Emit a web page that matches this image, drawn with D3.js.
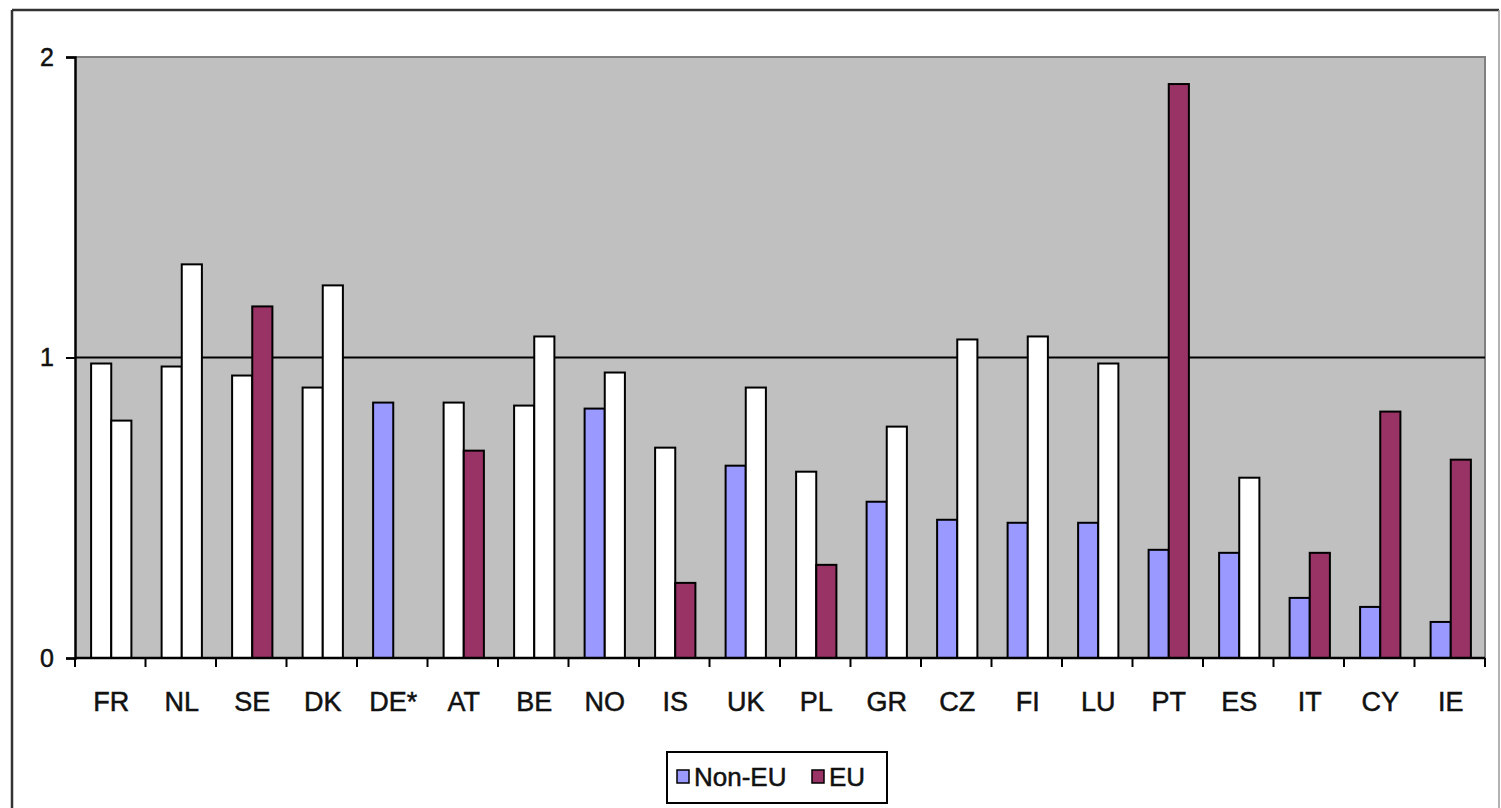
<!DOCTYPE html>
<html>
<head>
<meta charset="utf-8">
<script src="https://cdn.jsdelivr.net/npm/d3@7"></script>
<style>
  body { margin: 0; background: #fff; }
  text { font-family: "Liberation Sans", Arial, sans-serif; fill: #111; stroke: #111; stroke-width: 0.5px; }
</style>
</head>
<body>
<div id="chart"></div>
<script>
// Country codes along the x axis
var countries = ["FR", "NL", "SE", "DK", "DE*", "AT", "BE", "NO", "IS", "UK",
                 "PL", "GR", "CZ", "FI", "LU", "PT", "ES", "IT", "CY", "IE"];

// Values (DE* has no EU bar)
var nonEU = [0.98, 0.97, 0.94, 0.90, 0.85, 0.85, 0.84, 0.83, 0.70, 0.64,
             0.62, 0.52, 0.46, 0.45, 0.45, 0.36, 0.35, 0.20, 0.17, 0.12];
var eu    = [0.79, 1.31, 1.17, 1.24, null, 0.69, 1.07, 0.95, 0.25, 0.90,
             0.31, 0.77, 1.06, 1.07, 0.98, 1.91, 0.60, 0.35, 0.82, 0.66];

// true = drawn in series colour, false = drawn white in the original
var nonEUShaded = [false, false, false, false, true, false, false, true, false, true,
                   false, true, true, true, true, true, true, true, true, true];
var euShaded    = [false, false, true, false, false, true, false, false, true, false,
                   true, false, false, false, false, true, false, true, true, true];

var yTicks = [0, 1, 2];
var seriesNames = ["Non-EU", "EU"];
var seriesColors = ["#9999FF", "#993366"];

var svgWidth = 1501;
var svgHeight = 808;

var plot = { left: 75, top: 57, right: 1485, bottom: 658 };

var svg = d3.select("#chart")
  .append("svg")
  .attr("width", svgWidth)
  .attr("height", svgHeight);

// outer frame
svg.append("line").attr("x1", 12).attr("x2", 1499).attr("y1", 10).attr("y2", 10)
  .attr("stroke", "#333").attr("stroke-width", 2.5);
svg.append("line").attr("x1", 12).attr("x2", 12).attr("y1", 10).attr("y2", 808)
  .attr("stroke", "#333").attr("stroke-width", 2.5);
svg.append("line").attr("x1", 1499).attr("x2", 1499).attr("y1", 10).attr("y2", 808)
  .attr("stroke", "#999").attr("stroke-width", 1.5);

// scales
var x0 = d3.scaleBand()
  .domain(countries)
  .range([plot.left, plot.right])
  .padding(0);

var barW = x0.bandwidth() / 3.5;
var x1 = d3.scaleBand()
  .domain(seriesNames)
  .range([x0.bandwidth() / 2 - barW + 1, x0.bandwidth() / 2 + barW + 1])
  .padding(0);

var y = d3.scaleLinear()
  .domain([0, 2])
  .range([plot.bottom, plot.top]);

// plot background
svg.append("rect")
  .attr("x", plot.left)
  .attr("y", plot.top)
  .attr("width", plot.right - plot.left)
  .attr("height", plot.bottom - plot.top)
  .attr("fill", "#C0C0C0");

// top / right border of plot area
svg.append("path")
  .attr("d", `M${plot.left},${plot.top}H${plot.right}V${plot.bottom}`)
  .attr("fill", "none")
  .attr("stroke", "#808080")
  .attr("stroke-width", 2);

// gridline at 1
svg.append("line")
  .attr("x1", plot.left).attr("x2", plot.right)
  .attr("y1", y(1)).attr("y2", y(1))
  .attr("stroke", "#000")
  .attr("stroke-width", 2);

// bars
var rows = countries.map(function (c, i) {
  return [
    { country: c, series: "Non-EU", value: nonEU[i], color: nonEUShaded[i] ? seriesColors[0] : "#fff" },
    { country: c, series: "EU", value: eu[i], color: euShaded[i] ? seriesColors[1] : "#fff" }
  ];
});

svg.append("g")
  .selectAll("g")
  .data(rows)
  .enter()
  .append("g")
  .attr("transform", d => `translate(${x0(d[0].country)},0)`)
  .selectAll("rect")
  .data(d => d.filter(b => b.value != null))
  .enter()
  .append("rect")
  .attr("x", d => x1(d.series))
  .attr("y", d => y(d.value))
  .attr("width", x1.bandwidth())
  .attr("height", d => y(0) - y(d.value))
  .attr("fill", d => d.color)
  .attr("stroke", "#000")
  .attr("stroke-width", 2);

// y axis
var leftAxis = d3.axisLeft(y)
  .tickValues(yTicks)
  .tickFormat(d3.format("d"))
  .tickSize(9)
  .tickPadding(12);

var yAxisG = svg.append("g")
  .attr("transform", `translate(${plot.left},0)`)
  .call(leftAxis);
yAxisG.select(".domain").attr("stroke", "#000").attr("stroke-width", 2.5);
yAxisG.selectAll(".tick line").attr("stroke", "#000").attr("stroke-width", 2);
yAxisG.selectAll("text")
  .style("font-size", "25px")
  .style("font-family", "'Liberation Sans', Arial, sans-serif")
  .attr("fill", "#111");

// x axis (ticks between categories)
svg.append("line")
  .attr("x1", plot.left).attr("x2", plot.right)
  .attr("y1", plot.bottom).attr("y2", plot.bottom)
  .attr("stroke", "#000").attr("stroke-width", 2.5);

var sepTicks = countries.map(c => x0(c)).concat([plot.right]);
svg.append("g")
  .selectAll("line")
  .data(sepTicks)
  .enter()
  .append("line")
  .attr("x1", d => d).attr("x2", d => d)
  .attr("y1", plot.bottom).attr("y2", plot.bottom + 9)
  .attr("stroke", "#000").attr("stroke-width", 2);

svg.append("g")
  .selectAll("text")
  .data(countries)
  .enter()
  .append("text")
  .attr("x", d => x0(d) + x0.bandwidth() / 2 + 1)
  .attr("y", 711)
  .attr("text-anchor", "middle")
  .style("font-size", "27px")
  .text(d => d);

// legend
var legend = svg.append("g");
legend.append("rect")
  .attr("x", 667).attr("y", 752)
  .attr("width", 220).attr("height", 51)
  .attr("fill", "#fff")
  .attr("stroke", "#000")
  .attr("stroke-width", 2);

var legendX = [677, 812];
seriesNames.forEach(function (name, i) {
  legend.append("rect")
    .attr("x", legendX[i]).attr("y", 770)
    .attr("width", 12).attr("height", 13)
    .attr("fill", seriesColors[i])
    .attr("stroke", "#000")
    .attr("stroke-width", 1.5);
  legend.append("text")
    .attr("x", legendX[i] + 17)
    .attr("y", 786)
    .style("font-size", "26px")
    .text(name);
});
</script>
</body>
</html>
